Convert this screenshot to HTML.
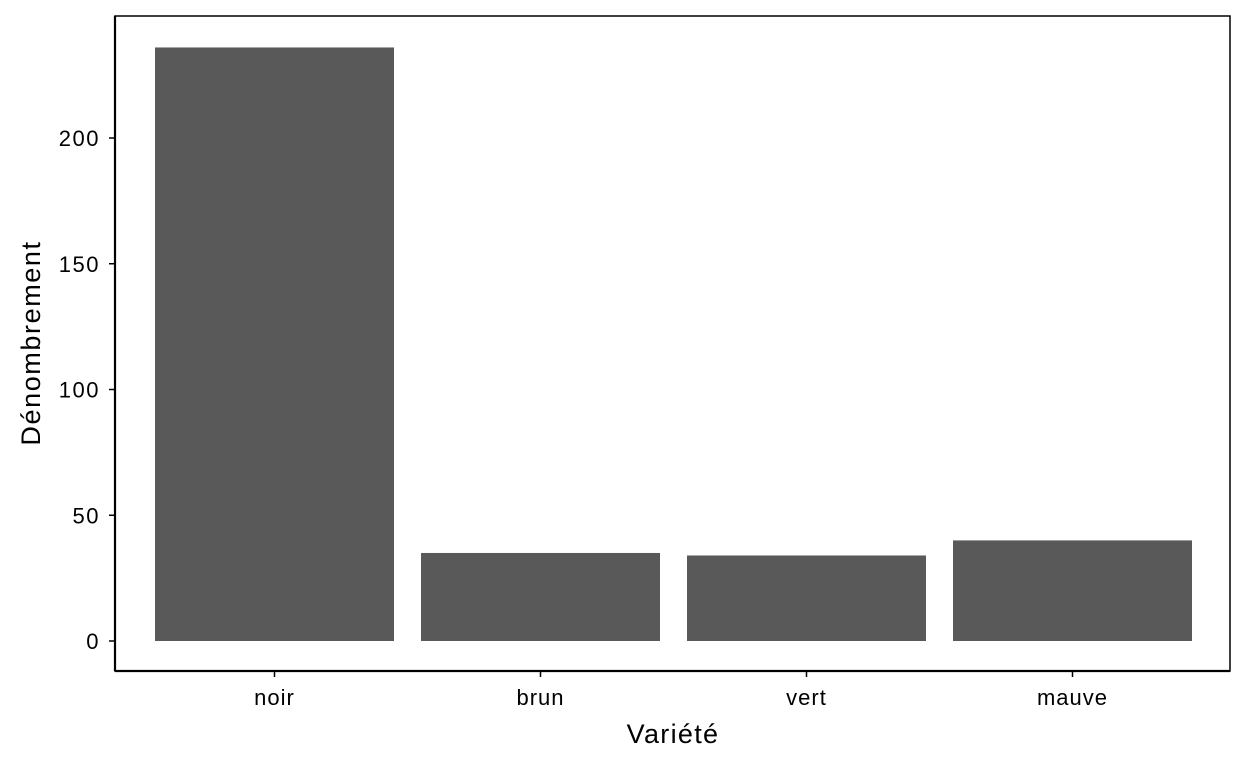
<!DOCTYPE html>
<html><head><meta charset="utf-8"><style>
body{margin:0;background:#fff}
svg text{font-family:"Liberation Sans",sans-serif;fill:#000}
</style></head><body>
<svg id="chart" width="1248" height="768">
<rect x="115" y="16" width="1115" height="655" fill="#fff" stroke="#000" stroke-width="1.5"/>
<line x1="115" y1="16" x2="115" y2="671" stroke="#000" stroke-width="2.2"/>
<line x1="115" y1="671" x2="1230" y2="671" stroke="#000" stroke-width="2.2"/>
<g id="bars"></g><g id="yaxis"></g><g id="xaxis"></g>
<text x="673" y="743" text-anchor="middle" font-size="27" letter-spacing="1.3">Variété</text>
<text transform="translate(40,343) rotate(-90)" text-anchor="middle" font-size="27" letter-spacing="1.6">Dénombrement</text>
</svg>
<script>
const categories=["noir","brun","vert","mauve"];
const counts=[236,35,34,40];
const yTicks=[0,50,100,150,200];
const NS="http://www.w3.org/2000/svg";
const y=v=>641-v*(641-138)/200;
const x=i=>274.5+i*266;
const bw=239;
function mk(t,a){const e=document.createElementNS(NS,t);for(const k in a)e.setAttribute(k,a[k]);return e;}
const bars=document.getElementById('bars'),ya=document.getElementById('yaxis'),xa=document.getElementById('xaxis');
categories.forEach((c,i)=>{
 const r=mk('rect',{x:x(i)-bw/2,y:y(counts[i]),width:bw,height:y(0)-y(counts[i]),fill:'#595959'});
 
 
 bars.appendChild(r);
 const tk=mk('line',{x1:x(i),x2:x(i),y1:671,y2:677,stroke:'#000','stroke-width':1.5});
 
 
 xa.appendChild(tk);
 const t=mk('text',{x:x(i),y:705,'text-anchor':'middle','font-size':22,'letter-spacing':1});
 t.textContent=c;
 
 
 xa.appendChild(t);
});
yTicks.forEach(v=>{
 const tk=mk('line',{x1:109,x2:115,y1:y(v),y2:y(v),stroke:'#000','stroke-width':1.5});
 
 
 ya.appendChild(tk);
 const t=mk('text',{x:100,y:y(v)+8,'text-anchor':'end','font-size':22,'letter-spacing':1.5});
 t.textContent=v;
 
 
 ya.appendChild(t);
});
</script>
</body></html>
